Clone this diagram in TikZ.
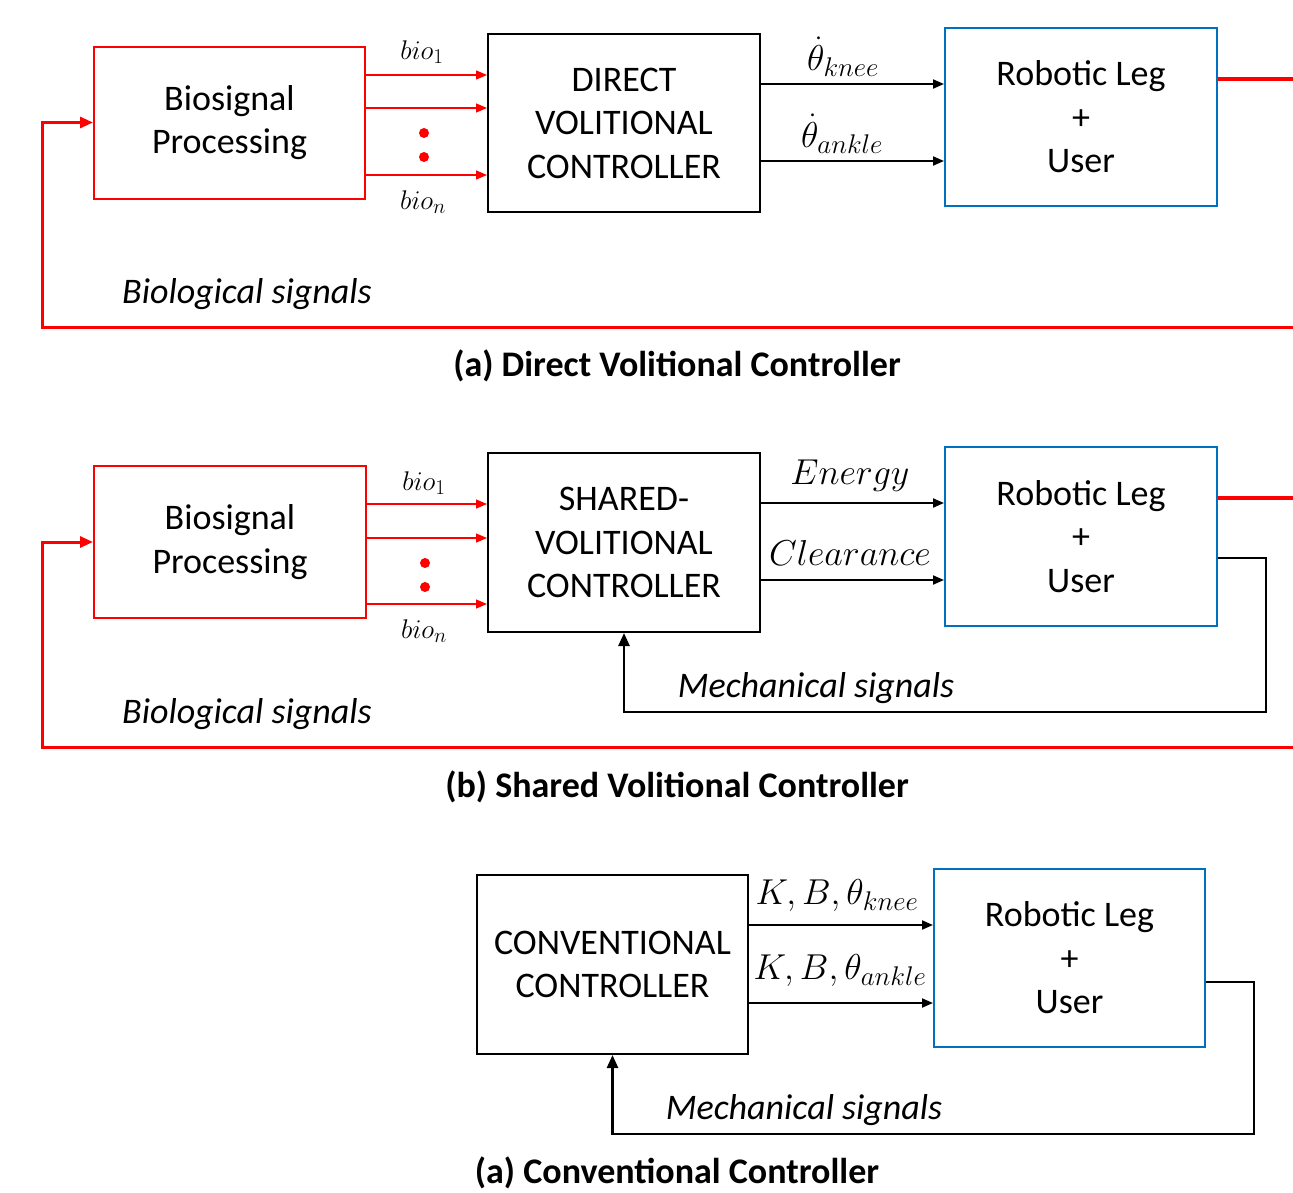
\RequirePackage{fix-cm}
\documentclass[tikz,border=0pt]{standalone}
\usepackage{fontspec}
\setmainfont{Carlito}
\usetikzlibrary{arrows.meta}
\DeclareMathSizes{36}{36}{27}{20}
\DeclareMathSizes{27}{27}{21}{16}
\definecolor{legblue}{RGB}{0,112,192}
\tikzset{
  box/.style={draw=black,line width=2pt,minimum width=272pt,minimum height=178pt,align=center,inner sep=0pt,font=\fontsize{36}{43.5}\selectfont},
  redbox/.style={box,draw=red,minimum height=152pt},
  bluebox/.style={box,draw=legblue},
  sig/.style={red,line width=1.3pt,-{Triangle[length=11pt,width=9pt]}},
  ctl/.style={black,line width=2pt,-{Triangle[length=11pt,width=9pt]}},
  fbred/.style={red,line width=3pt,-{Triangle[length=13pt,width=11pt]}},
  outred/.style={red,line width=3.5pt},
  fbblk/.style={black,line width=2.5pt,-{Triangle[length=13pt,width=11pt]}},
  mlab/.style={font=\fontsize{36}{42}\selectfont,inner sep=0pt},
  blab/.style={font=\fontsize{27}{32}\selectfont,inner sep=0pt},
  ital/.style={font=\fontsize{36}{42}\selectfont\itshape,inner sep=0pt},
  captext/.style={font=\fontsize{36}{42}\selectfont\bfseries,inner sep=0pt},
  reddot/.style={circle,fill=red,inner sep=0pt,minimum size=10pt}
}
\begin{document}
\begin{tikzpicture}[x=1pt,y=-1pt]
\useasboundingbox (0,0) rectangle (1293,1192);
% ---------- (a) ----------
\node[redbox,minimum width=271pt] (bioA) at (229.5,122.5) {Biosignal\\Processing};
\node[box] (dvc) at (624,123) {DIRECT\\VOLITIONAL\\CONTROLLER};
\node[bluebox] (legA) at (1081,117) {Robotic Leg\\+\\User};
\draw[sig] (bioA.east |- 0,75) -- (dvc.west |- 0,75);
\draw[sig] (bioA.east |- 0,108) -- (dvc.west |- 0,108);
\draw[sig] (bioA.east |- 0,175) -- (dvc.west |- 0,175);
\node[reddot] (dA1) at (424,133) {};
\node[reddot] (dA2) at (424,157) {};
\node[blab] (b1A) at (422,52) {$bio_1$};
\node[blab] (bnA) at (423,202) {$bio_n$};
\draw[ctl] (dvc.east |- 0,84) -- (legA.west |- 0,84);
\draw[ctl] (dvc.east |- 0,161) -- (legA.west |- 0,161);
\node[mlab] (kA) at (843,57) {$\dot\theta_{knee}$};
\node[mlab] (aA) at (842,134) {$\dot\theta_{ankle}$};
\coordinate (outA) at (1293,79);
\draw[outred] (legA.east |- outA) -- (outA);
\coordinate (fbA) at (1293,327);
\draw[fbred] (fbA) -- (42,327) |- (bioA.west);
\node[ital] (bsA) at (247,294) {Biological signals};
\node[captext] (capA) at (677,366) {(a) Direct Volitional Controller};
% ---------- (b) ----------
\node[redbox] (bioB) at (230,542) {Biosignal\\Processing};
\node[box,minimum height=179pt] (svc) at (624,542.5) {SHARED-\\VOLITIONAL\\CONTROLLER};
\node[bluebox,minimum height=179pt] (legB) at (1081,536.5) {Robotic Leg\\+\\User};
\draw[sig] (bioB.east |- 0,504) -- (svc.west |- 0,504);
\draw[sig] (bioB.east |- 0,538) -- (svc.west |- 0,538);
\draw[sig] (bioB.east |- 0,604) -- (svc.west |- 0,604);
\node[reddot] (dB1) at (425,563) {};
\node[reddot] (dB2) at (425,587) {};
\node[blab] (b1B) at (424,483) {$bio_1$};
\node[blab] (bnB) at (424,631) {$bio_n$};
\draw[ctl] (svc.east |- 0,503) -- (legB.west |- 0,503);
\draw[ctl] (svc.east |- 0,580) -- (legB.west |- 0,580);
\node[mlab] (eB) at (850,476) {$Energy$};
\node[mlab] (cB) at (850,553) {$Clearance$};
\coordinate (outB) at (1293,498);
\draw[outred] (legB.east |- outB) -- (outB);
\draw[fbblk] (legB.east |- 0,558) -- (1266,558) -- (1266,712) -| (svc.south);
\node[ital] (msB) at (816,688) {Mechanical signals};
\coordinate (fbB) at (1293,747);
\draw[fbred] (fbB) -- (42,747) |- (bioB.west);
\node[ital] (bsB) at (247,714) {Biological signals};
\node[captext] (capB) at (677,787) {(b) Shared Volitional Controller};
% ---------- (c) ----------
\node[box,minimum width=271pt,minimum height=179pt] (cc) at (612.5,964.5) {CONVENTIONAL\\CONTROLLER};
\node[bluebox,minimum width=271pt] (legC) at (1069.5,958) {Robotic Leg\\+\\User};
\draw[ctl] (cc.east |- 0,925) -- (legC.west |- 0,925);
\draw[ctl] (cc.east |- 0,1003) -- (legC.west |- 0,1003);
\node[mlab] (kC) at (837,895) {$K,B,\theta_{knee}$};
\node[mlab] (aC) at (840,970) {$K,B,\theta_{ankle}$};
\draw[fbblk] (legC.east |- 0,982) -- (1254,982) -- (1254,1134) -| (cc.south);
\node[ital] (msC) at (804,1110) {Mechanical signals};
\node[captext] (capC) at (677,1173) {(a) Conventional Controller};
\end{tikzpicture}
\end{document}
